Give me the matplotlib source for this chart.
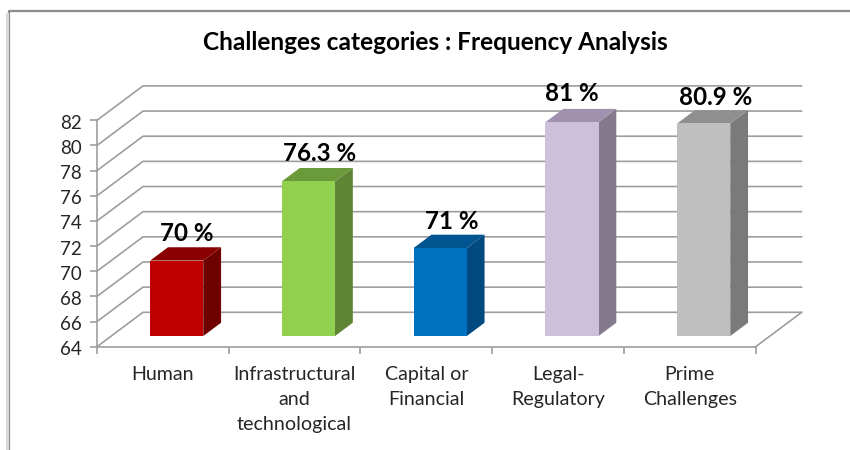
import matplotlib
matplotlib.use('Agg')
import matplotlib.pyplot as plt
from matplotlib.patches import Polygon
from matplotlib.transforms import ScaledTranslation

categories = ['Human', 'Infrastructural\nand\ntechnological', 'Capital or\nFinancial', 'Legal-\nRegulatory', 'Prime\nChallenges']
values = [70, 76.3, 71, 81, 80.9]
value_labels = ['70 %', '76.3 %', '71 %', '81 %', '80.9 %']
y_ticks = list(range(64, 84, 2))
title = 'Challenges categories : Frequency Analysis'
front_colors = ['#C00000', '#92D050', '#0070C0', '#CCC0DA', '#BFBFBF']
top_colors = ['#8A0000', '#6A9A3A', '#00548F', '#A091AE', '#8F8F8F']
side_colors = ['#6E0000', '#5E8534', '#004A80', '#837A8C', '#7A7A7A']
label_nudge_x = [1, 2, 3, -9, 3]
label_nudge_y = [-2, -1, -2, 0, -3]

W, H = 850, 450
plt.rcParams['font.family'] = ['Lato', 'DejaVu Sans']
fig = plt.figure(figsize=(W / 100, H / 100), dpi=100)
fig.patch.set_facecolor('white')

# chart frame
bg = fig.add_axes([0, 0, 1, 1], zorder=0)
bg.set_xlim(0, W); bg.set_ylim(H, 0); bg.axis('off')
bg.plot([9.5, 9.5, W], [H, 11, 11], color='#8C8C8C', lw=1.6)
bg.plot([7, 7], [14, H], color='#D8D8D8', lw=2.2)

L, R, T, B = 97, 755.7, 120.3, 346.7
ax = fig.add_axes([L / W, 1 - B / H, (R - L) / W, (B - T) / H], zorder=1)
ax.set_xlim(0, 5); ax.set_ylim(64, 82)
ax.patch.set_alpha(0)
for s in ['top', 'right']:
    ax.spines[s].set_visible(False)
GRID = '#9E9E9E'
for s in ['left', 'bottom']:
    ax.spines[s].set_color(GRID); ax.spines[s].set_linewidth(1.2)
ax.set_yticks(y_ticks)
ax.set_xticks(range(6)); ax.set_xticklabels([])
ax.tick_params(axis='both', color=GRID, width=1.2, length=5)
ax.tick_params(axis='y', labelsize=13.5, pad=6, labelcolor='#262626')
nudge = ScaledTranslation(0, -1.5 / 100, fig.dpi_scale_trans)
for lab in ax.get_yticklabels():
    lab.set_transform(lab.get_transform() + nudge)

# depth vector in data units (full floor depth)
DX = 46 / ((R - L) / 5)
DY = 34.4 / ((B - T) / 18)

kw = dict(clip_on=False, color=GRID, lw=1.2, zorder=1, solid_capstyle='round')
for t in y_ticks:
    ax.plot([0, DX, 5 + DX], [t, t + DY, t + DY], **kw)
ax.plot([5, 5 + DX], [64, 64 + DY], **kw)

d0, d = 0.31, 0.387   # bar front depth, bar depth (fraction of floor)
bw = 0.403
shift = -0.003
for i, v in enumerate(values):
    x0 = i + 0.5 - bw / 2 + d0 * DX + shift
    x1 = x0 + bw
    y0 = 64 + d0 * DY
    y1 = v + d0 * DY
    ox, oy = d * DX, d * DY
    ax.add_patch(Polygon([(x1, y0), (x1 + ox, y0 + oy), (x1 + ox, y1 + oy), (x1, y1)],
                         fc=side_colors[i], ec='none', clip_on=False, zorder=3))
    ax.add_patch(Polygon([(x0, y1), (x1, y1), (x1 + ox, y1 + oy), (x0 + ox, y1 + oy)],
                         fc=top_colors[i], ec='none', clip_on=False, zorder=3))
    ax.add_patch(Polygon([(x0, y0), (x1, y0), (x1, y1), (x0, y1)],
                         fc=front_colors[i], ec='none', clip_on=False, zorder=4))
    ax.annotate(value_labels[i], xy=(x0 + bw / 2 + ox / 2, y1 + oy),
                xytext=(label_nudge_x[i] * 0.72, 3 + label_nudge_y[i] * 0.72),
                textcoords='offset points', ha='center', va='bottom',
                fontsize=17.4, fontweight='bold', color='black', zorder=6,
                annotation_clip=False)

for i, c in enumerate(categories):
    ax.annotate(c, xy=(i + 0.5, 64), xytext=(0, -14), textcoords='offset points',
                ha='center', va='top', fontsize=14.1, color='#262626',
                linespacing=1.56, annotation_clip=False)

fig.text(435 / W, 1 - 43 / H, title, ha='center', va='center', fontsize=17.6, fontweight='bold', color='black')
fig.savefig('out.png', dpi=100)
